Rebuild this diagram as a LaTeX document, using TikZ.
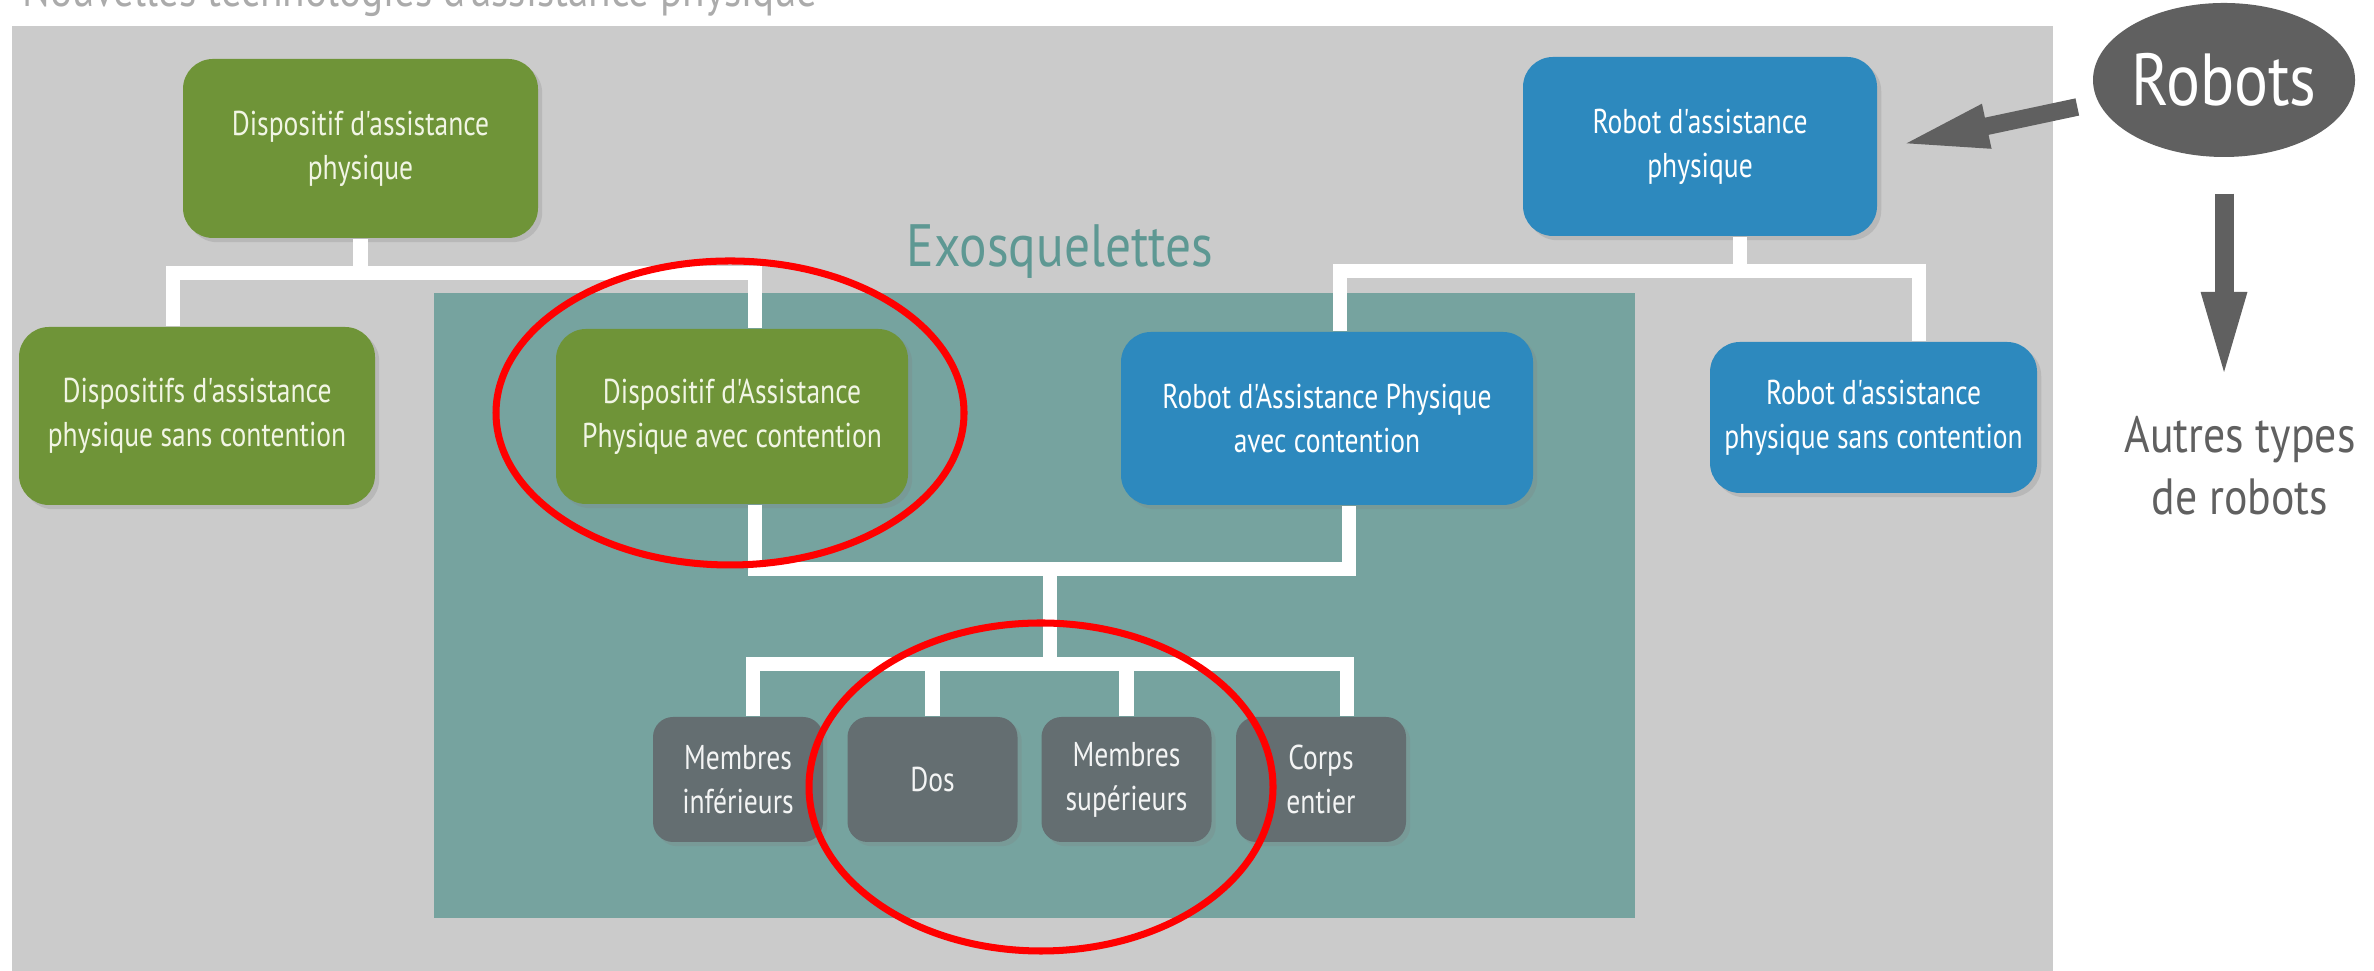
\documentclass[tikz,border=0pt]{standalone}
\usepackage{fontspec}
\setmainfont{PT Sans}[FakeStretch=0.86]
\newfontfamily\boxfont{PT Sans}[FakeStretch=0.8]
\usetikzlibrary{shapes.geometric,arrows.meta,shadows}
\definecolor{panel}{HTML}{CBCBCB}
\definecolor{exoteal}{HTML}{76A39F}
\definecolor{exotxt}{HTML}{5E9893}
\definecolor{dapgreen}{HTML}{6F9438}
\definecolor{daptxt}{HTML}{F1F5E4}
\definecolor{rapblue}{HTML}{2D89BE}
\definecolor{slate}{HTML}{646E71}
\definecolor{arrowgray}{HTML}{606060}
\definecolor{titlegray}{HTML}{ABABAB}
\begin{document}
\begin{tikzpicture}[line join=miter, font=\boxfont\fontsize{9.8}{12.5}\selectfont,
		box/.style={rounded corners=0.3cm, align=center, inner sep=0pt, drop shadow={shadow xshift=1.2pt, shadow yshift=-1.2pt, opacity=0.25}},
		dap/.style={box, fill=dapgreen, text=daptxt},
		rap/.style={box, fill=rapblue, text=white},
		partbox/.style={box, rounded corners=0.2cm, fill=slate, text=white!92!slate, minimum width=1.70cm, minimum height=1.25cm},
		link/.style={draw=white, line width=4pt},
		bigarrow/.style={draw=arrowgray, line width=5pt, -{Triangle[length=0.9cm,width=0.4cm]}}]
	\useasboundingbox (0,0) rectangle (23.74,9.71);
	\clip (0,0) rectangle (23.74,9.71);
	\node[anchor=base west, text=titlegray, font=\rmfamily\fontsize{13.6}{16}\selectfont] (titre) at (0.10,9.64) {Nouvelles technologies d'assistance physique};
	\fill[panel] (0.12,0) rectangle (20.53,9.45);
	\fill[exoteal] (4.34,0.53) rectangle (16.35,6.78);
	\node[text=exotxt, font=\rmfamily\fontsize{17}{20}\selectfont] (exo) at (10.60,7.19) {Exosquelettes};
	% dispositifs
	\node[dap, minimum width=3.55cm, minimum height=1.79cm] (dapTop) at (3.605,8.225) {Dispositif d'assistance\\physique};
	\node[dap, minimum width=3.56cm, minimum height=1.78cm] (dapSans) at (1.97,5.55) {Dispositifs d'assistance\\physique sans contention};
	\node[dap, minimum width=3.52cm, minimum height=1.75cm] (dapAvec) at (7.32,5.545) {Dispositif d'Assistance\\Physique avec contention};
	% robots
	\node[rap, minimum width=3.54cm, minimum height=1.79cm] (rapTop) at (17.00,8.245) {Robot d'assistance\\physique};
	\node[rap, minimum width=4.12cm, minimum height=1.73cm] (rapAvec) at (13.27,5.525) {Robot d'Assistance Physique\\avec contention};
	\node[rap, minimum width=3.27cm, minimum height=1.51cm] (rapSans) at (18.735,5.535) {Robot d'assistance\\physique sans contention};
	% parties du corps
	\node[partbox] (membInf) at (7.38,1.915) {Membres\\inférieurs};
	\node[partbox] (dos) at (9.325,1.915) {Dos};
	\node[partbox] (membSup) at (11.265,1.915) {Membres\\supérieurs};
	\node[partbox] (corps) at (13.21,1.915) {Corps\\entier};
	\coordinate (dapFork) at (3.57,6.98);
	\coordinate (rapFork) at (17.40,7.00);
	\coordinate (avecFork) at (10.50,4.02);
	\coordinate (exoFork) at (10.50,3.07);
	\draw[link] (dapTop.south) -- (dapTop.south |- dapFork);
	\draw[link] ([xshift=-0.24cm]dapSans.north) |- (dapFork) -| ([xshift=0.23cm]dapAvec.north);
	\draw[link] ([xshift=0.4cm]rapTop.south) -- (rapFork);
	\draw[link] ([xshift=0.13cm]rapAvec.north) |- (rapFork) -| ([xshift=0.455cm]rapSans.north);
	\draw[link] ([xshift=0.23cm]dapAvec.south) |- (avecFork) -| ([xshift=0.22cm]rapAvec.south);
	\draw[link] (avecFork) -- (exoFork);
	\draw[link] ([xshift=0.15cm]membInf.north) |- (exoFork) -| ([xshift=0.26cm]corps.north);
	\draw[link] (dos.north) -- (dos.north |- exoFork);
	\draw[link] (membSup.north) -- (membSup.north |- exoFork);
	% robots et autres types
	\node[ellipse, fill=arrowgray, minimum width=2.5cm, minimum height=1.54cm, inner sep=0pt, text=white, font=\rmfamily\fontsize{21}{24}\selectfont] (robots) at (22.24,8.91) {Robots};
	\node[text=arrowgray, align=center, font=\rmfamily\fontsize{14.5}{17.6}\selectfont] (autres) at (22.40,5.05) {Autres types\\de robots};
	\coordinate (autresTip) at (22.24,5.89);
	\draw[bigarrow] ([shift={(-0.15,-0.27)}]robots.west) -- ([shift={(0.21,0.015)}]rapTop.east);
	\draw[bigarrow, line width=5.4pt, shorten <=0.36cm] (robots.south) -- (autresTip);
	\draw[red, line width=2pt] (7.30,5.58) ellipse [x radius=2.34, y radius=1.52];
	\draw[red, line width=2pt] (10.41,1.84) ellipse [x radius=2.32, y radius=1.64];
\end{tikzpicture}
\end{document}
